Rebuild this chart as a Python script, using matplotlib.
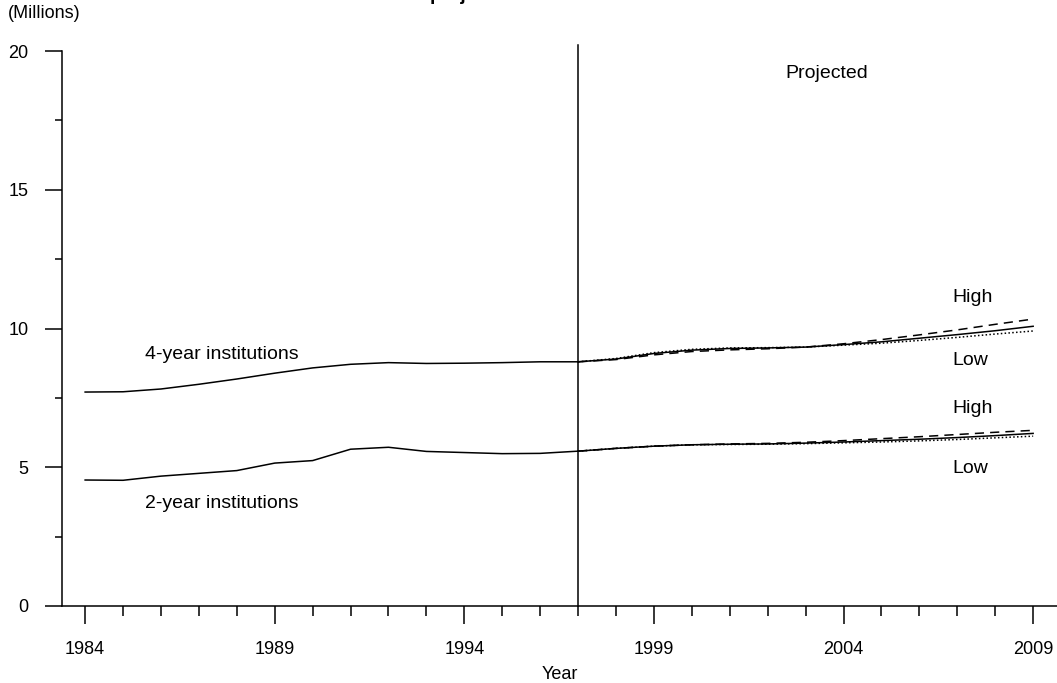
import numpy as np
import matplotlib.pyplot as plt
from matplotlib.ticker import MultipleLocator

plt.rcParams['font.family'] = ['Liberation Sans', 'DejaVu Sans']

# actual enrollment, millions
years_hist = [1984, 1985, 1986, 1987, 1988, 1989, 1990, 1991, 1992, 1993, 1994, 1995, 1996, 1997]
four_year_hist = [7.71, 7.72, 7.82, 7.99, 8.18, 8.39, 8.58, 8.71, 8.77, 8.74, 8.75, 8.77, 8.80, 8.80]
two_year_hist = [4.54, 4.53, 4.68, 4.78, 4.88, 5.15, 5.24, 5.65, 5.72, 5.57, 5.53, 5.49, 5.50, 5.58]

# projections (middle / high / low)
years_proj = [1997, 1998, 1999, 2000, 2001, 2002, 2003, 2004, 2005, 2006, 2007, 2008, 2009]
four_year_mid = [8.80, 8.90, 9.10, 9.22, 9.28, 9.30, 9.33, 9.42, 9.52, 9.65, 9.78, 9.92, 10.08]
four_year_high = [8.80, 8.88, 9.05, 9.17, 9.23, 9.27, 9.33, 9.45, 9.60, 9.77, 9.95, 10.15, 10.34]
four_year_low = [8.80, 8.92, 9.13, 9.25, 9.30, 9.31, 9.33, 9.40, 9.47, 9.57, 9.68, 9.80, 9.91]
two_year_mid = [5.58, 5.68, 5.76, 5.81, 5.83, 5.84, 5.87, 5.91, 5.96, 6.01, 6.07, 6.14, 6.22]
two_year_high = [5.58, 5.68, 5.76, 5.81, 5.84, 5.86, 5.90, 5.96, 6.03, 6.10, 6.18, 6.26, 6.33]
two_year_low = [5.58, 5.68, 5.76, 5.81, 5.82, 5.83, 5.85, 5.88, 5.91, 5.95, 6.00, 6.06, 6.12]

fig = plt.figure(figsize=(10.57, 6.83), dpi=100)
# 1984 sits at x=85px, one year is ~37.92px
ax = fig.add_axes([62 / 1057, 1 - 606 / 683, 995 / 1057, 555 / 683])

lw = 1.1
ax.plot(years_hist, four_year_hist, color='black', lw=lw)
ax.plot(years_hist, two_year_hist, color='black', lw=lw)
for mid, high, low in [(four_year_mid, four_year_high, four_year_low),
                       (two_year_mid, two_year_high, two_year_low)]:
    ax.plot(years_proj, mid, color='black', lw=lw)
    ax.plot(years_proj, high, color='black', lw=lw, ls=(0, (6, 4)))
    ax.plot(years_proj, low, color='black', lw=lw, ls=(0, (1, 1.5)))

# start of projections
ax.plot([1997, 1997], [0, 20.2], color='black', lw=lw, clip_on=False)

ax.set_xlim(1983.39, 1983.39 + 995 / 37.92)
ax.set_ylim(0, 20)

for side in ['top', 'right']:
    ax.spines[side].set_visible(False)
ax.spines['left'].set_bounds(0, 20)
ax.spines['left'].set_linewidth(lw)
ax.spines['bottom'].set_linewidth(lw)

ax.set_xticks([1984, 1989, 1994, 1999, 2004, 2009])
ax.xaxis.set_minor_locator(MultipleLocator(1))
ax.yaxis.set_major_locator(MultipleLocator(5))
ax.yaxis.set_minor_locator(MultipleLocator(2.5))
ax.tick_params(axis='x', which='major', direction='out', length=13, width=lw, pad=12, labelsize=13)
ax.tick_params(axis='x', which='minor', direction='out', length=7, width=lw)
ax.tick_params(axis='y', which='major', direction='out', length=12, width=lw, pad=12, labelsize=13)
ax.tick_params(axis='y', which='minor', direction='out', length=5, width=lw)

ax.set_xlabel('Year', fontsize=13, labelpad=6)

fig.text(8 / 1057, 1 - 14 / 683, '(Millions)', fontsize=13, va='center', ha='left')
fig.text(430 / 1057, 1.0, 'projections', fontsize=14, fontweight='bold', va='baseline', ha='left')

ax.text(2003.56, 19.2, 'Projected', fontsize=14, va='center', ha='center')
ax.text(1985.58, 9.05, '4-year institutions', fontsize=14, va='center', ha='left')
ax.text(1985.58, 3.7, '2-year institutions', fontsize=14, va='center', ha='left')
ax.text(2006.86, 11.1, 'High', fontsize=14, va='center', ha='left')
ax.text(2006.86, 8.86, 'Low', fontsize=14, va='center', ha='left')
ax.text(2006.86, 7.1, 'High', fontsize=14, va='center', ha='left')
ax.text(2006.86, 4.95, 'Low', fontsize=14, va='center', ha='left')

fig.savefig('out.png', dpi=100)
